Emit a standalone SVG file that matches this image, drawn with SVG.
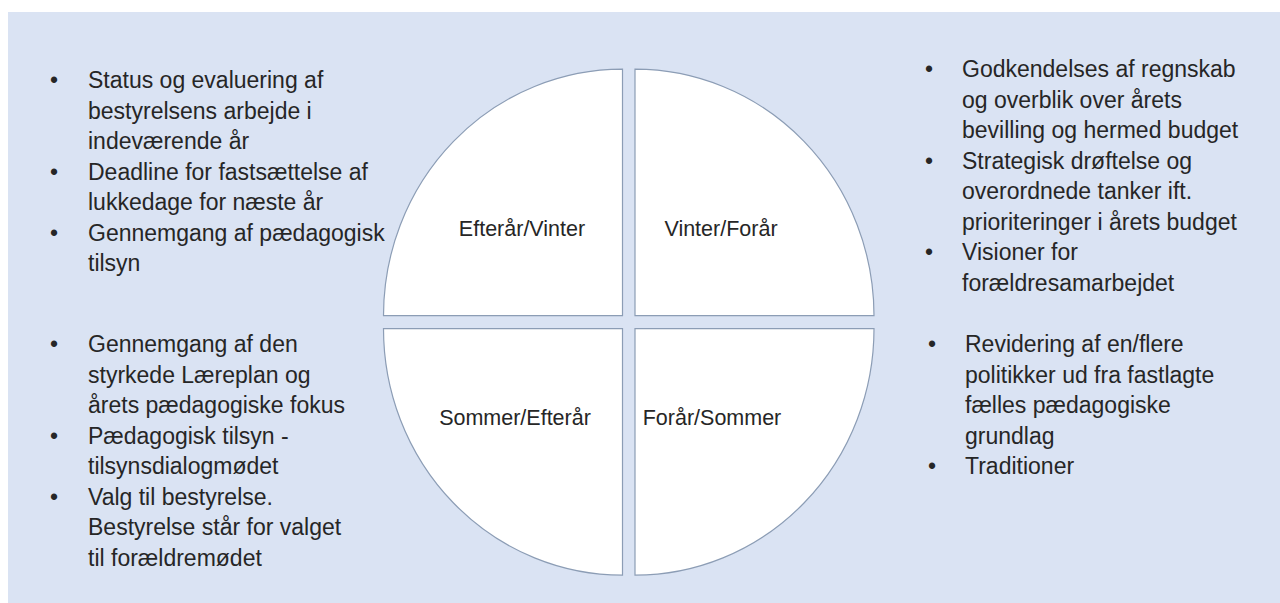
<svg xmlns="http://www.w3.org/2000/svg" width="1280" height="603" viewBox="0 0 1280 603">
<style>
.bg{fill:#dae3f3}
.q{fill:#ffffff;stroke:#8c9db5;stroke-width:1.2}
text{font-family:"Liberation Sans",Arial,sans-serif;font-size:23px;fill:#262626}
.lbl{text-anchor:middle;font-size:21.5px}
</style>
<rect x="0" y="0" width="1280" height="603" fill="#ffffff"/>
<rect class="bg" x="8" y="12" width="1272" height="591"/>
<g id="quadrant-tl">
<path class="q" d="M622.5,315.7 L383.5,315.7 A239,246.5 0 0 1 622.5,69.2 Z"/>
<text class="lbl" x="522" y="236">Efterår/Vinter</text>
</g>
<g id="quadrant-tr">
<path class="q" d="M635,315.7 L635,69.2 A239,246.5 0 0 1 874,315.7 Z"/>
<text class="lbl" x="721" y="236">Vinter/Forår</text>
</g>
<g id="quadrant-bl">
<path class="q" d="M622.5,328.7 L383.5,328.7 A239,246.5 0 0 0 622.5,575.2 Z"/>
<text class="lbl" x="515" y="425">Sommer/Efterår</text>
</g>
<g id="quadrant-br">
<path class="q" d="M635,328.7 L874,328.7 A239,246.5 0 0 1 635,575.2 Z"/>
<text class="lbl" x="712" y="425">Forår/Sommer</text>
</g>
<g id="connectors"></g>
<g id="list-tl">
<text x="50" y="88">•</text>
<text x="88" y="88">Status og evaluering af</text>
<text x="88" y="118.5">bestyrelsens arbejde i</text>
<text x="88" y="149">indeværende år</text>
<text x="50" y="179.5">•</text>
<text x="88" y="179.5">Deadline for fastsættelse af</text>
<text x="88" y="210">lukkedage for næste år</text>
<text x="50" y="240.5">•</text>
<text x="88" y="240.5">Gennemgang af pædagogisk</text>
<text x="88" y="271">tilsyn</text>
</g>
<g id="list-tr">
<text x="925" y="77">•</text>
<text x="962" y="77">Godkendelses af regnskab</text>
<text x="962" y="107.5">og overblik over årets</text>
<text x="962" y="138">bevilling og hermed budget</text>
<text x="925" y="168.5">•</text>
<text x="962" y="168.5">Strategisk drøftelse og</text>
<text x="962" y="199">overordnede tanker ift.</text>
<text x="962" y="229.5">prioriteringer i årets budget</text>
<text x="925" y="260">•</text>
<text x="962" y="260">Visioner for</text>
<text x="962" y="290.5">forældresamarbejdet</text>
</g>
<g id="list-bl">
<text x="50" y="352">•</text>
<text x="88" y="352">Gennemgang af den</text>
<text x="88" y="382.5">styrkede Læreplan og</text>
<text x="88" y="413">årets pædagogiske fokus</text>
<text x="50" y="443.5">•</text>
<text x="88" y="443.5">Pædagogisk tilsyn -</text>
<text x="88" y="474">tilsynsdialogmødet</text>
<text x="50" y="504.5">•</text>
<text x="88" y="504.5">Valg til bestyrelse.</text>
<text x="88" y="535">Bestyrelse står for valget</text>
<text x="88" y="565.5">til forældremødet</text>
</g>
<g id="list-br">
<text x="928" y="352">•</text>
<text x="965" y="352">Revidering af en/flere</text>
<text x="965" y="382.5">politikker ud fra fastlagte</text>
<text x="965" y="413">fælles pædagogiske</text>
<text x="965" y="443.5">grundlag</text>
<text x="928" y="474">•</text>
<text x="965" y="474">Traditioner</text>
</g>
</svg>
